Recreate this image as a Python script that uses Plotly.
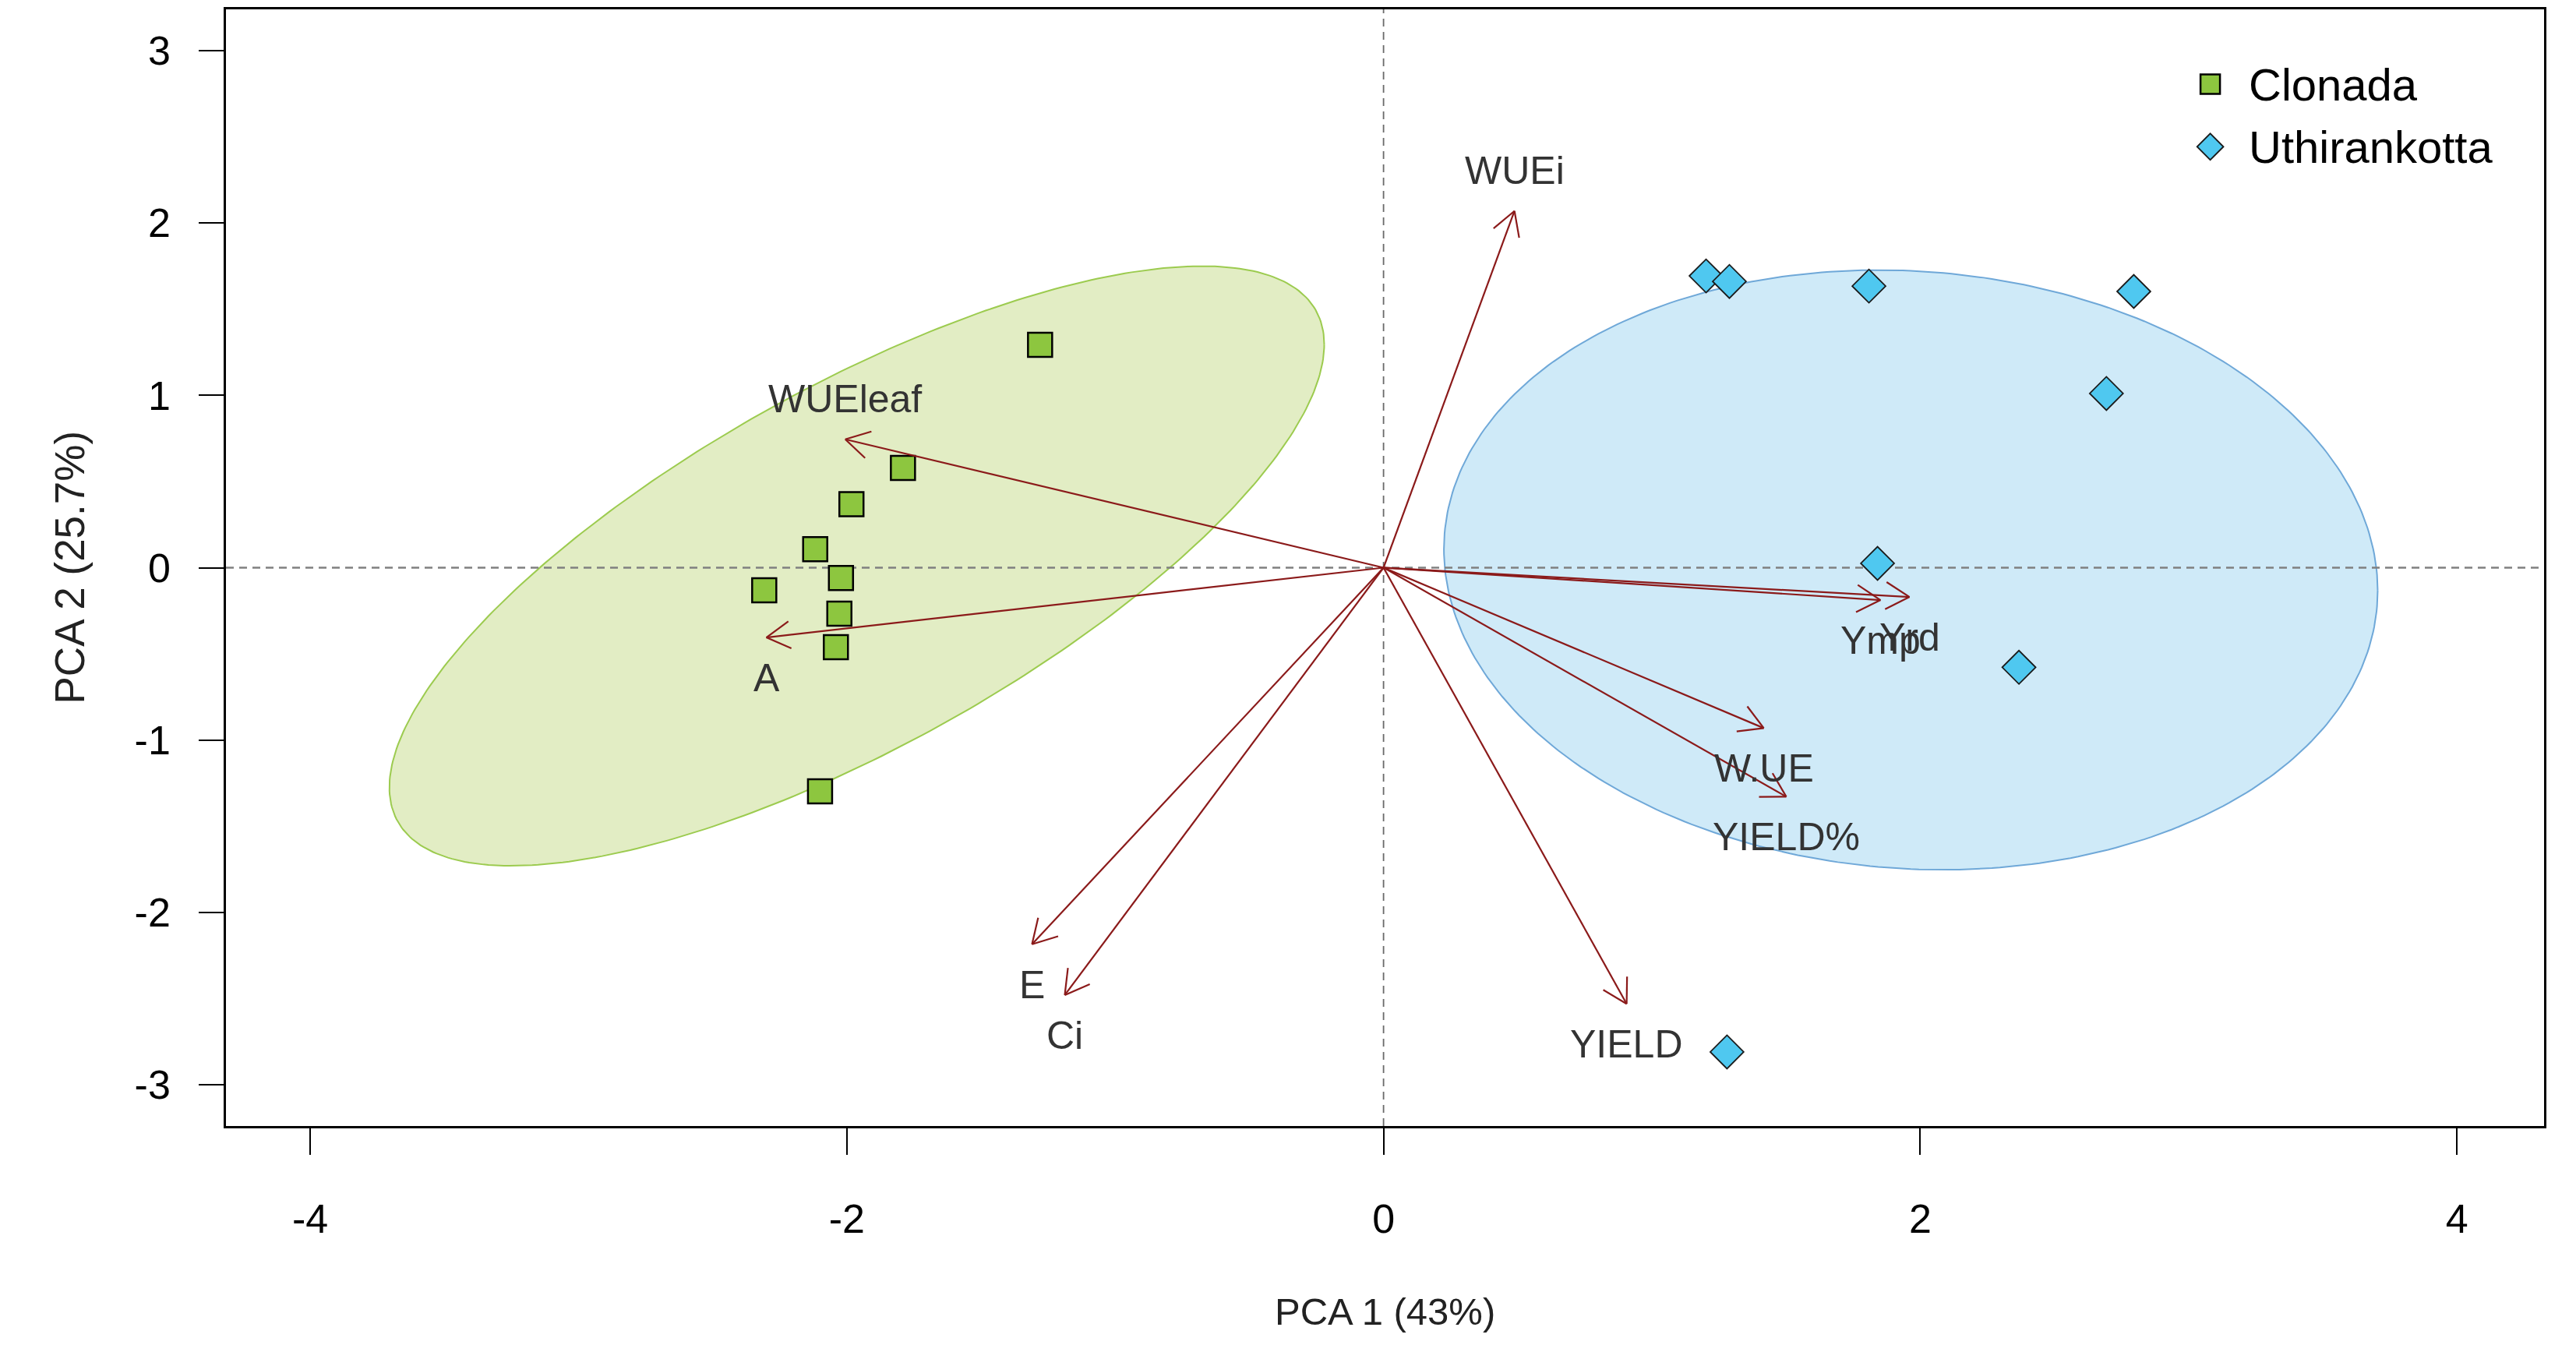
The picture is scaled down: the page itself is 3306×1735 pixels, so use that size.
import numpy as np
import plotly.graph_objects as go

# ---------------- data ----------------
clonada_pc1 = [-1.280, -1.791, -1.983, -2.118, -2.022, -2.308, -2.028, -2.041, -2.100]
clonada_pc2 = [1.293, 0.579, 0.368, 0.107, -0.060, -0.131, -0.267, -0.461, -1.298]

uthi_pc1 = [1.202, 1.289, 1.809, 2.796, 2.694, 1.841, 2.368, 1.280]
uthi_pc2 = [1.693, 1.661, 1.634, 1.603, 1.011, 0.025, -0.578, -2.810]

variables = ["WUEi", "WUEleaf", "A", "E", "Ci", "Ymp", "Yrd", "W.UE", "YIELD%", "YIELD"]
loading_pc1 = [0.488, -2.006, -2.300, -1.310, -1.188, 1.852, 1.960, 1.417, 1.501, 0.906]
loading_pc2 = [2.070, 0.745, -0.405, -2.185, -2.480, -0.188, -0.170, -0.931, -1.329, -2.531]

groups = ["Clonada", "Uthirankotta"]
ellipse_cx = [-1.963, 1.965]
ellipse_cy = [0.010, -0.013]
ellipse_half_w = [1.742, 1.740]
ellipse_half_h = [1.740, 1.740]
ellipse_tilt = [1.285, -0.12]

x_ticks = [-4, -2, 0, 2, 4]
x_tick_labels = ["-4", "-2", "0", "2", "4"]
y_ticks = [-3, -2, -1, 0, 1, 2, 3]
y_tick_labels = ["-3", "-2", "-1", "0", "1", "2", "3"]
x_title = "PCA 1 (43%)"
y_title = "PCA 2 (25.7%)"

# ---------------- styling ----------------
W, H = 3306, 1735
PAGE_OFF = 8  # browser body margin
ML, MT = 290 - PAGE_OFF, 9 - PAGE_OFF
plot_w, plot_h = 2975, 1436
MR = W - ML - plot_w
MB = H - MT - plot_h
XR = [-4.314, 4.325]
YR = [-3.24, 3.24]
FONT = "Liberation Sans, Arial, sans-serif"
ARROW = "#8B1A1A"
sq_fill = "#8DC63F"
di_fill = "#4FC8F0"
ell_fill = ["rgba(226,237,196,1)", "rgba(207,234,248,1)"]
ell_line = ["#9CCB4F", "#6FA8D8"]

sx = plot_w / (XR[1] - XR[0])
sy = plot_h / (YR[1] - YR[0])

fig = go.Figure()

# ellipses
t = np.linspace(0, 2 * np.pi, 361)
for i in range(2):
    b = np.sqrt(ellipse_half_h[i] ** 2 - ellipse_tilt[i] ** 2)
    ex = ellipse_cx[i] + ellipse_half_w[i] * np.cos(t)
    ey = ellipse_cy[i] + b * np.sin(t) + ellipse_tilt[i] * np.cos(t)
    fig.add_trace(go.Scatter(x=ex, y=ey, mode="lines", fill="toself",
                             fillcolor=ell_fill[i], line=dict(color=ell_line[i], width=2),
                             hoverinfo="skip", showlegend=False))

# dashed reference lines
fig.add_trace(go.Scatter(x=XR, y=[0, 0], mode="lines",
                         line=dict(color="#808080", width=2.5, dash="10px,7px"),
                         hoverinfo="skip", showlegend=False))
fig.add_trace(go.Scatter(x=[0, 0], y=YR, mode="lines",
                         line=dict(color="#6a6a6a", width=1.8, dash="10px,7px"),
                         hoverinfo="skip", showlegend=False))

# points
fig.add_trace(go.Scatter(x=clonada_pc1, y=clonada_pc2, mode="markers", name=groups[0],
                         marker=dict(symbol="square", size=31, color=sq_fill,
                                     line=dict(color="black", width=2.5)),
                         showlegend=False))
fig.add_trace(go.Scatter(x=uthi_pc1, y=uthi_pc2, mode="markers", name=groups[1],
                         marker=dict(symbol="diamond", size=33, color=di_fill,
                                     line=dict(color="#1a1a1a", width=1.8)),
                         showlegend=False))

# arrows (open V heads like R arrows(): length ~35px, angle 30 deg)
head_len = 35.0
ang = np.deg2rad(30)
ax_, ay_ = [], []
for x, y in zip(loading_pc1, loading_pc2):
    ax_ += [0, x, None]
    ay_ += [0, y, None]
    px, py = x * sx, y * sy
    n = np.hypot(px, py)
    ux, uy = px / n, py / n
    for s in (ang, -ang):
        rx = ux * np.cos(s) - uy * np.sin(s)
        ry = ux * np.sin(s) + uy * np.cos(s)
        hx = (px - head_len * rx) / sx
        hy = (py - head_len * ry) / sy
        ax_ += [hx, x, None]
        ay_ += [hy, y, None]
fig.add_trace(go.Scatter(x=ax_, y=ay_, mode="lines",
                         line=dict(color=ARROW, width=2.2),
                         hoverinfo="skip", showlegend=False))

annotations = []
for name, x, y in zip(variables, loading_pc1, loading_pc2):
    annotations.append(dict(x=x, y=y, xref="x", yref="y", text=name, showarrow=False,
                            yshift=52 if y > 0 else -52, xanchor="center", yanchor="middle",
                            font=dict(family=FONT, size=50, color="#333333")))

# manual legend on an overlay [0,1] axis
fig.add_trace(go.Scatter(x=[0.856], y=[0.933], xaxis="x2", yaxis="y2", mode="markers",
                         marker=dict(symbol="square", size=25, color=sq_fill,
                                     line=dict(color="black", width=2.5)),
                         hoverinfo="skip", showlegend=False))
fig.add_trace(go.Scatter(x=[0.856], y=[0.877], xaxis="x2", yaxis="y2", mode="markers",
                         marker=dict(symbol="diamond", size=26, color=di_fill,
                                     line=dict(color="#1a1a1a", width=1.8)),
                         hoverinfo="skip", showlegend=False))
for g, yy in zip(groups, [0.933, 0.877]):
    annotations.append(dict(x=0.872, y=yy, xref="x2", yref="y2", text=g, showarrow=False,
                            xanchor="left", yanchor="middle",
                            font=dict(family=FONT, size=58, color="black")))

# axis titles
annotations.append(dict(x=0.5, y=-(1683 - 1445) / plot_h, xref="paper", yref="paper",
                        text=x_title, showarrow=False, xanchor="center", yanchor="middle",
                        font=dict(family=FONT, size=49, color="#222222")))
annotations.append(dict(x=-(290 - 89) / plot_w, y=0.5, xref="paper", yref="paper",
                        text=y_title, showarrow=False, xanchor="center", yanchor="middle",
                        textangle=-90, font=dict(family=FONT, size=53, color="#222222")))

axis_common = dict(showgrid=False, zeroline=False, showline=True, linecolor="black",
                   linewidth=2.5, mirror=True, ticks="outside", tickwidth=2,
                   tickcolor="black", tickfont=dict(family=FONT, size=52, color="black"))

fig.update_layout(
    width=W, height=H,
    margin=dict(l=ML, r=MR, t=MT, b=MB),
    plot_bgcolor="white", paper_bgcolor="white",
    xaxis=dict(range=XR, tickvals=x_ticks, ticktext=x_tick_labels, ticklen=34,
               ticklabelstandoff=38, **axis_common),
    yaxis=dict(range=YR, tickvals=y_ticks, ticktext=y_tick_labels, ticklen=32,
               ticklabelstandoff=26, **axis_common),
    xaxis2=dict(overlaying="x", range=[0, 1], visible=False),
    yaxis2=dict(overlaying="y", range=[0, 1], visible=False),
    annotations=annotations,
    showlegend=False,
)

fig.write_html("out.html")
